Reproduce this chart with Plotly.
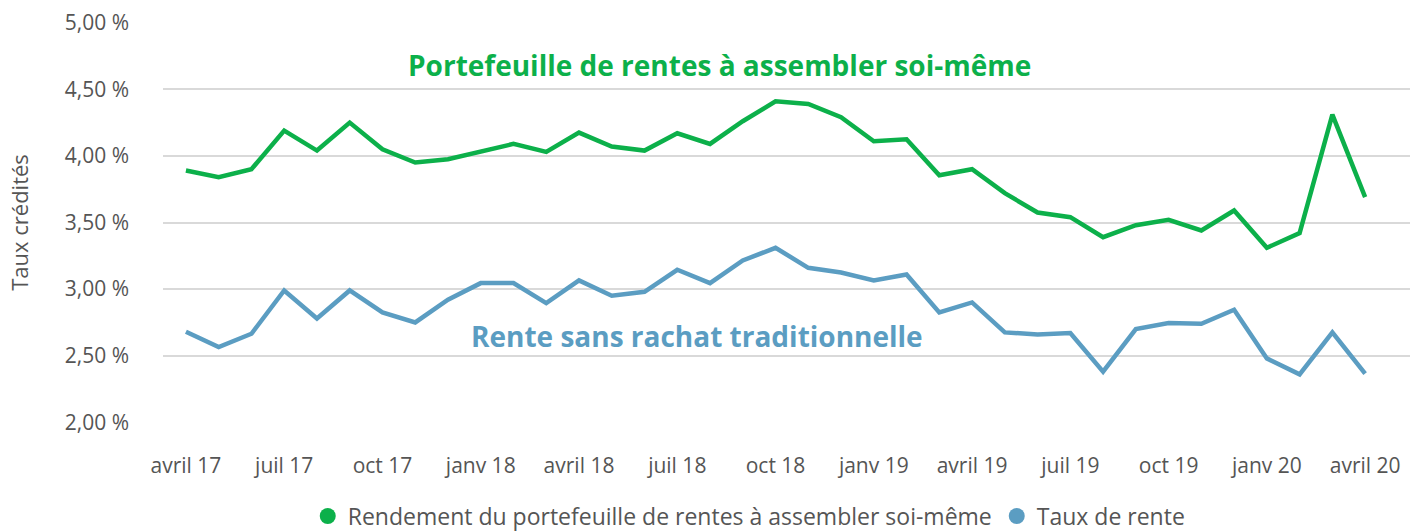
import plotly.graph_objects as go

months = ["avril 17", "mai 17", "juin 17", "juil 17", "août 17", "sept 17", "oct 17", "nov 17", "déc 17",
          "janv 18", "févr 18", "mars 18", "avril 18", "mai 18", "juin 18", "juil 18", "août 18", "sept 18",
          "oct 18", "nov 18", "déc 18", "janv 19", "févr 19", "mars 19", "avril 19", "mai 19", "juin 19",
          "juil 19", "août 19", "sept 19", "oct 19", "nov 19", "déc 19", "janv 20", "févr 20", "mars 20",
          "avril 20"]

portefeuille = [3.89, 3.84, 3.90, 4.19, 4.04, 4.25, 4.05, 3.95, 3.975, 4.035, 4.09, 4.03,
                4.175, 4.07, 4.04, 4.17, 4.09, 4.26, 4.41, 4.39, 4.29, 4.11, 4.125, 3.855,
                3.90, 3.72, 3.575, 3.54, 3.39, 3.48, 3.52, 3.44, 3.59, 3.31, 3.42, 4.31, 3.69]

rente = [2.68, 2.565, 2.665, 2.99, 2.78, 2.99, 2.825, 2.75, 2.92, 3.045, 3.045, 2.895,
         3.065, 2.95, 2.98, 3.145, 3.045, 3.215, 3.31, 3.16, 3.125, 3.065, 3.11, 2.825,
         2.90, 2.675, 2.66, 2.67, 2.38, 2.70, 2.745, 2.74, 2.845, 2.48, 2.36, 2.675, 2.365]

tick_labels = months[::3]
y_ticks = [2.0, 2.5, 3.0, 3.5, 4.0, 4.5, 5.0]
y_tick_text = ["2,00 %", "2,50 %", "3,00 %", "3,50 %", "4,00 %", "4,50 %", "5,00 %"]

GREEN = "#0CB04A"
BLUE = "#5B9DC2"
TEXT = "#555555"
FONT = "Open Sans"

fig = go.Figure()
fig.add_trace(go.Scatter(x=months, y=portefeuille, mode="lines",
                         line=dict(color=GREEN, width=4.5), showlegend=False))
fig.add_trace(go.Scatter(x=months, y=rente, mode="lines",
                         line=dict(color=BLUE, width=4.5), showlegend=False))
# legend entries (round markers)
fig.add_trace(go.Scatter(x=[None], y=[None], mode="markers",
                         marker=dict(color=GREEN, size=24),
                         name="Rendement du portefeuille de rentes à assembler soi-même"))
fig.add_trace(go.Scatter(x=[None], y=[None], mode="markers",
                         marker=dict(color=BLUE, size=24),
                         name="Taux de rente"))

fig.add_annotation(x=16.3, y=4.68, text="<b>Portefeuille de rentes à assembler soi-même</b>",
                   showarrow=False, font=dict(family=FONT, size=28, color=GREEN))
fig.add_annotation(x=15.6, y=2.65, text="<b>Rente sans rachat traditionnelle</b>",
                   showarrow=False, font=dict(family=FONT, size=28, color=BLUE))

fig.update_layout(
    width=1411, height=532,
    margin=dict(l=163, r=1, t=22, b=109),
    paper_bgcolor="white", plot_bgcolor="white",
    font=dict(family=FONT, color=TEXT),
    legend=dict(orientation="h", xref="container", yref="container",
                x=0.531, xanchor="center", y=0.03, yanchor="middle",
                font=dict(size=23, color=TEXT), itemsizing="trace"),
    xaxis=dict(type="category", range=[-0.7, 37.37], tickmode="array",
               tickvals=tick_labels, ticktext=tick_labels, showgrid=False,
               zeroline=False, showline=False, ticks="", ticklabelstandoff=28,
               automargin=False, tickfont=dict(size=21, color=TEXT)),
    yaxis=dict(range=[1.995, 5.005], tickmode="array", tickvals=y_ticks, ticktext=y_tick_text,
               showgrid=True, gridcolor="#D9D9D9", gridwidth=1.5, zeroline=False,
               showline=False, ticks="", ticklabelstandoff=33, automargin=False,
               tickfont=dict(size=21, color=TEXT),
               title=dict(text="Taux crédités", font=dict(size=22, color=TEXT), standoff=30)),
)

fig.write_html("out.html", config={"displayModeBar": False},
               post_script="document.body.style.margin='0';")
